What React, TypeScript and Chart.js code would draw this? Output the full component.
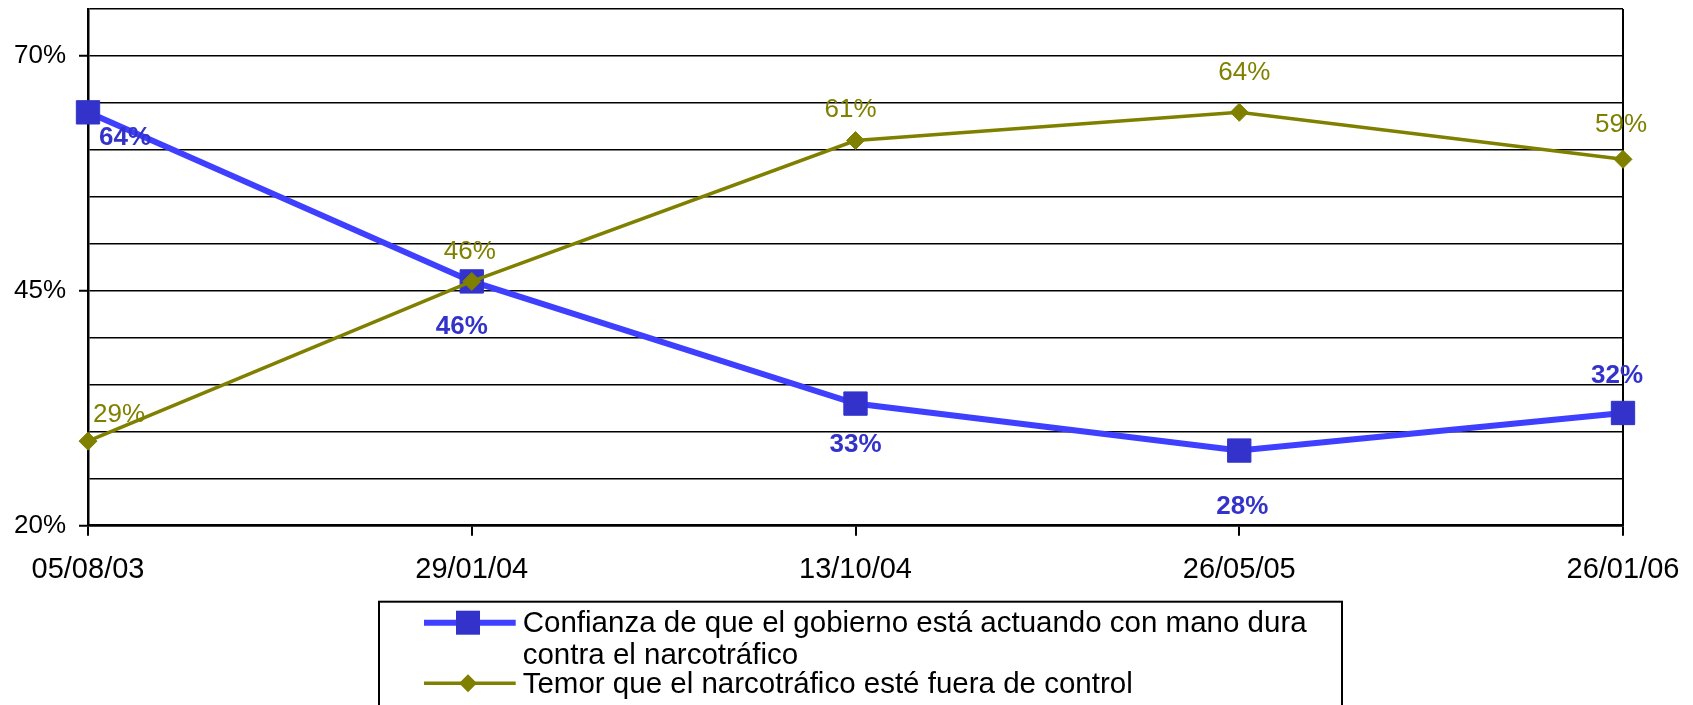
import React, { useEffect, useRef } from "react";
import { Chart, registerables } from "chart.js";

Chart.register(...registerables);

const categories = ["05/08/03", "29/01/04", "13/10/04", "26/05/05", "26/01/06"];
const confianza = [64, 46, 33, 28, 32];
const temor = [29, 46, 61, 64, 59];
const yTickLabels = [20, 45, 70];
const seriesNames = [
  ["Confianza de que el gobierno está actuando con mano dura", "contra el narcotráfico"],
  ["Temor que el narcotráfico esté fuera de control"],
];

const FONT = "'Liberation Sans', Arial, sans-serif";
const BLUE_LINE = "#3F3FFF";
const BLUE_MARK = "#3333CC";
const OLIVE = "#808000";

// label offsets (pixels) relative to each point
const blueLabelOffsets = [[37, 23], [-10, 43], [0, 39], [3, 54], [-6, -39]];
const oliveLabelOffsets = [[31, -28], [-2, -32], [-5, -33], [5, -42], [-2, -37]];

const labelsPlugin = {
  id: "pointLabels",
  afterDatasetsDraw(chart: any) {
    const ctx = chart.ctx;
    ctx.save();
    ctx.textAlign = "center";
    ctx.textBaseline = "alphabetic";
    chart.data.datasets.forEach((ds: any, di: number) => {
      const meta = chart.getDatasetMeta(di);
      const isBlue = di === 0;
      const offs = isBlue ? blueLabelOffsets : oliveLabelOffsets;
      const size = 26;
      ctx.font = `${isBlue ? "bold " : ""}${size}px ${FONT}`;
      ctx.fillStyle = isBlue ? BLUE_MARK : OLIVE;
      meta.data.forEach((pt: any, i: number) => {
        const [dx, dy] = offs[i];
        ctx.fillText(`${ds.data[i]}%`, pt.x + dx, pt.y + dy + size * 0.358);
      });
    });
    ctx.restore();
  },
};

const legendPlugin = {
  id: "boxLegend",
  afterDraw(chart: any) {
    const ctx = chart.ctx;
    ctx.save();
    ctx.strokeStyle = "#000";
    ctx.lineWidth = 2;
    ctx.strokeRect(371, 593.7, 1334 - 371, 200);
    ctx.strokeStyle = BLUE_LINE;
    ctx.lineWidth = 6;
    ctx.beginPath();
    ctx.moveTo(416, 614.7);
    ctx.lineTo(507.7, 614.7);
    ctx.stroke();
    ctx.fillStyle = BLUE_MARK;
    ctx.fillRect(460 - 12, 614.7 - 12, 24, 24);
    ctx.strokeStyle = OLIVE;
    ctx.lineWidth = 3.5;
    ctx.beginPath();
    ctx.moveTo(416, 675.3);
    ctx.lineTo(507.7, 675.3);
    ctx.stroke();
    ctx.fillStyle = OLIVE;
    ctx.beginPath();
    ctx.moveTo(460 - 9, 675.3);
    ctx.lineTo(460, 675.3 - 9);
    ctx.lineTo(460 + 9, 675.3);
    ctx.lineTo(460, 675.3 + 9);
    ctx.closePath();
    ctx.fill();
    ctx.fillStyle = "#000";
    ctx.font = `29.5px ${FONT}`;
    ctx.textAlign = "left";
    ctx.textBaseline = "alphabetic";
    ctx.fillText(seriesNames[0][0], 514.7, 624);
    ctx.fillText(seriesNames[0][1], 514.7, 655.5);
    ctx.fillText(seriesNames[1][0], 514.7, 685);
    ctx.restore();
  },
};

export default function App() {
  const ref = useRef<HTMLCanvasElement>(null);
  useEffect(() => {
    if (!ref.current) return;
    const last = categories.length - 1;
    const chart = new Chart(ref.current, {
      type: "line",
      data: {
        labels: categories,
        datasets: [
          {
            label: seriesNames[0].join(" "),
            data: confianza,
            borderColor: BLUE_LINE,
            borderWidth: 6,
            pointStyle: "rect",
            pointRadius: 16.5,
            pointBackgroundColor: BLUE_MARK,
            pointBorderColor: BLUE_MARK,
            pointBorderWidth: 1,
            tension: 0,
            order: 1,
          },
          {
            label: seriesNames[1][0],
            data: temor,
            borderColor: OLIVE,
            borderWidth: 3.5,
            pointStyle: "rectRot",
            pointRadius: 9,
            pointBackgroundColor: OLIVE,
            pointBorderColor: OLIVE,
            pointBorderWidth: 1,
            tension: 0,
            order: 0,
          },
        ],
      },
      options: {
        responsive: false,
        animation: false,
        devicePixelRatio: 1,
        layout: { autoPadding: false, padding: { left: 0, top: 1, right: 62, bottom: 99.3 } },
        plugins: {
          legend: { display: false },
          tooltip: { enabled: false },
          title: { display: false },
        },
        scales: {
          x: {
            type: "category",
            offset: false,
            afterFit: (s: any) => {
              s.height = 80;
              s.paddingLeft = 0;
              s.paddingRight = 0;
              s.paddingTop = 0;
              s.paddingBottom = 0;
            },
            grid: {
              offset: false,
              drawOnChartArea: true,
              color: (c: any) => (c.index === last ? "#000" : "rgba(0,0,0,0)"),
              lineWidth: 2,
              tickLength: 10,
              tickColor: "#000",
              tickWidth: 2,
            },
            border: { display: true, color: "#000", width: 2.5 },
            ticks: {
              color: "#000",
              font: { family: FONT, size: 29 },
              padding: 17,
              maxRotation: 0,
              autoSkip: false,
            },
          },
          y: {
            min: 20,
            max: 75,
            afterFit: (s: any) => {
              s.width = 80;
              s.paddingLeft = 0;
              s.paddingRight = 0;
              s.paddingTop = 0;
              s.paddingBottom = 0;
            },
            grid: {
              color: "#000",
              lineWidth: 1.5,
              tickLength: 9,
              tickWidth: 2,
              tickColor: (c: any) =>
                c.tick && yTickLabels.includes(c.tick.value) ? "#000" : "rgba(0,0,0,0)",
            },
            border: { display: true, color: "#000", width: 2.5 },
            ticks: {
              stepSize: 5,
              autoSkip: false,
              color: "#000",
              font: { family: FONT, size: 26 },
              padding: 13,
              callback: (v: any) => (yTickLabels.includes(Number(v)) ? `${v}%` : ""),
            },
          },
        },
      },
      plugins: [labelsPlugin, legendPlugin],
    });
    return () => chart.destroy();
  }, []);
  return (
    <div style={{ width: 1677, height: 697 }}>
      <canvas ref={ref} width={1677} height={697} style={{ display: "block" }} />
    </div>
  );
}
